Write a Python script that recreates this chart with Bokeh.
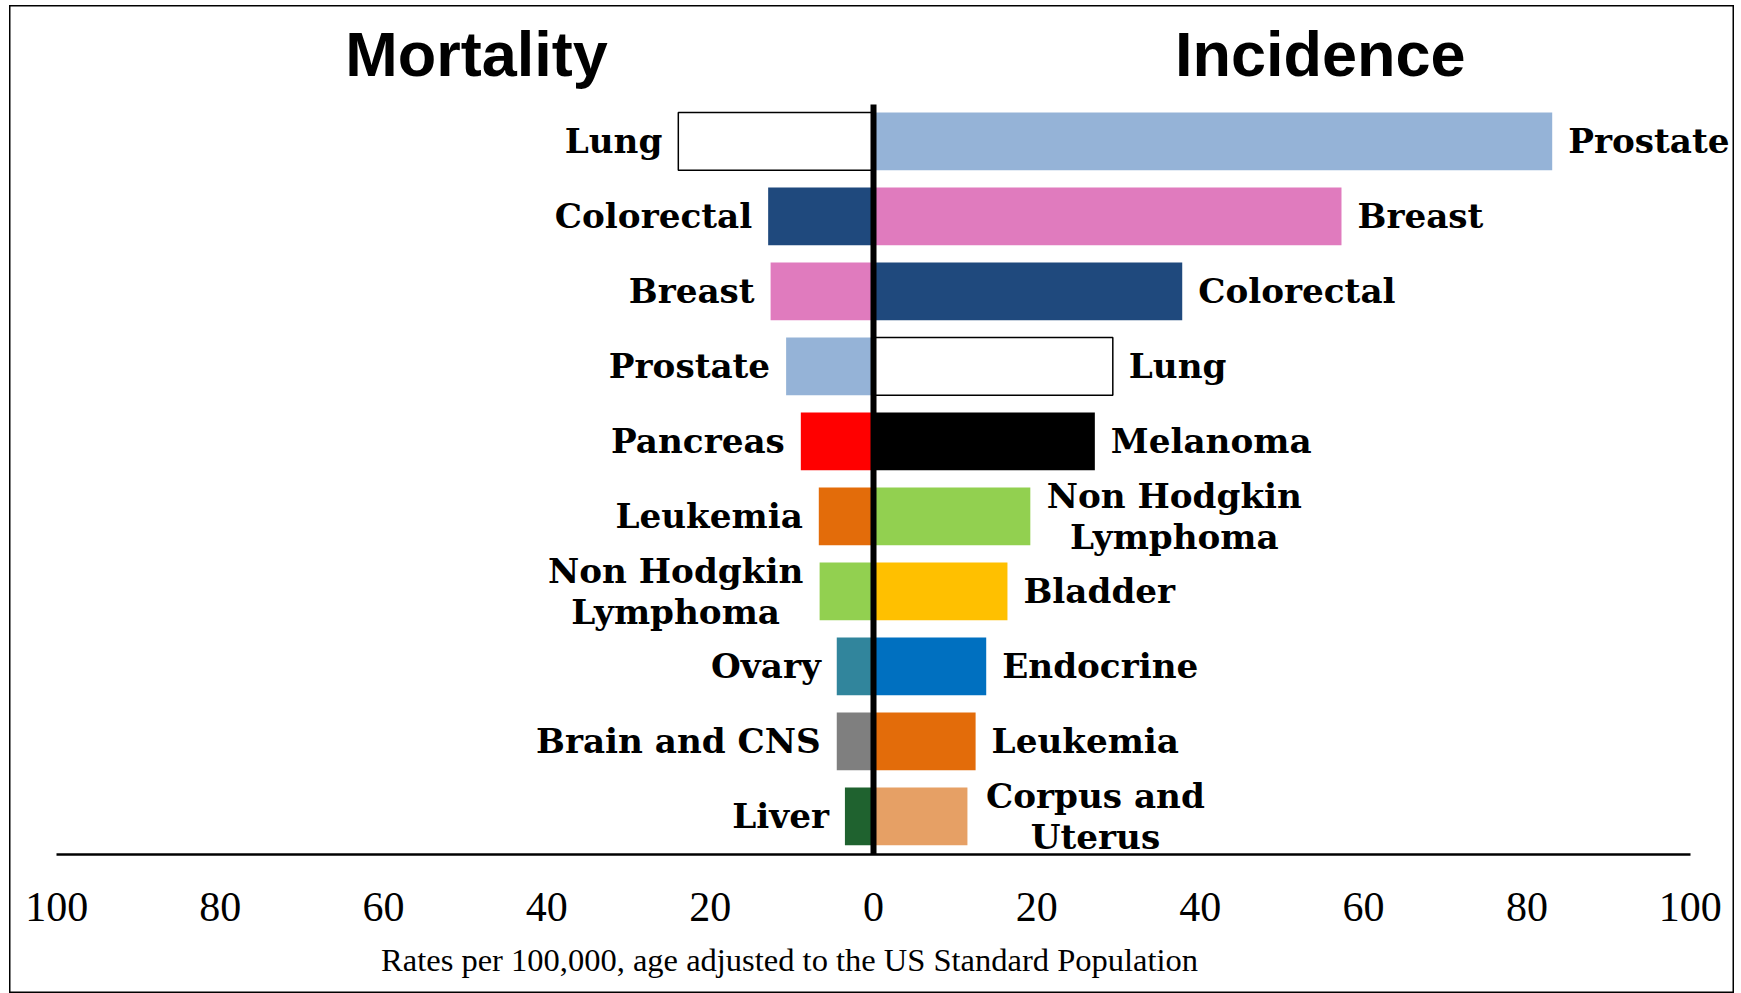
from bokeh.plotting import figure
from bokeh.models import ColumnDataSource, Range1d, LinearAxis, FixedTicker
from bokeh.core.properties import value
from bokeh.embed import file_html
from bokeh.resources import INLINE

# ---------------- data ----------------
mort_sites = ["Lung", "Colorectal", "Breast", "Prostate", "Pancreas", "Leukemia",
              "Non Hodgkin\nLymphoma", "Ovary", "Brain and CNS", "Liver"]
mort_rates = [23.9, 12.9, 12.6, 10.7, 8.9, 6.7, 6.6, 4.5, 4.5, 3.5]

inc_sites = ["Prostate", "Breast", "Colorectal", "Lung", "Melanoma",
             "Non Hodgkin\nLymphoma", "Bladder", "Endocrine", "Leukemia", "Corpus and\nUterus"]
inc_rates = [83.1, 57.3, 37.8, 29.3, 27.1, 19.2, 16.4, 13.8, 12.5, 11.5]

tick_values = [-100, -80, -60, -40, -20, 0, 20, 40, 60, 80, 100]
footnote = "Rates per 100,000, age adjusted to the US Standard Population"

# ---------------- styles ----------------
site_colors = {
    "Lung": "#FFFFFF", "Colorectal": "#1F497D", "Breast": "#E07BBE", "Prostate": "#95B3D7",
    "Pancreas": "#FF0000", "Leukemia": "#E36C0A", "Non Hodgkin\nLymphoma": "#92D050",
    "Ovary": "#31859C", "Brain and CNS": "#7F7F7F", "Liver": "#1F622F",
    "Melanoma": "#000000", "Bladder": "#FFC000", "Endocrine": "#0070C0",
    "Corpus and\nUterus": "#E6A065",
}
outlined = {"Lung"}
multi_half_width = {"Non Hodgkin\nLymphoma": 128, "Corpus and\nUterus": 112}
GAP = 16
LABEL_FONT = value("DejaVu Serif")

W, H = 1725, 988
rows = list(range(len(mort_sites)))

p = figure(width=W, height=H, output_backend="svg", toolbar_location=None,
           x_axis_type=None, y_axis_type=None,
           x_range=Range1d(-105.79, 105.42), y_range=Range1d(11.36, -1.813),
           min_border=0, min_border_left=0, min_border_right=0,
           min_border_top=0, min_border_bottom=0, margin=(5, 0, 0, 9))
p.outline_line_color = "black"
p.outline_line_width = 2
p.background_fill_color = "white"
p.border_fill_color = "white"


def side_source(sites, rates, sign):
    left, right, fill, lc, tx, off, align = [], [], [], [], [], [], []
    for s, r in zip(sites, rates):
        left.append(min(0, sign * r))
        right.append(max(0, sign * r))
        fill.append(site_colors[s])
        lc.append("black" if s in outlined else None)
        tx.append(sign * r)
        if s in multi_half_width:
            off.append(sign * (GAP + multi_half_width[s]))
            align.append("center")
        else:
            off.append(sign * GAP)
            align.append("left" if sign > 0 else "right")
    return ColumnDataSource(dict(y=rows, left=left, right=right, fill=fill, lc=lc,
                                 tx=tx, off=off, align=align, label=list(sites)))


mort_src = side_source(mort_sites, mort_rates, -1)
inc_src = side_source(inc_sites, inc_rates, 1)

for src in (mort_src, inc_src):
    p.hbar(y="y", left="left", right="right", height=0.77, fill_color="fill",
           line_color="lc", line_width=1.5, source=src)
    p.text(x="tx", y="y", text="label", x_offset="off", text_align="align",
           text_baseline="middle", text_font=LABEL_FONT, text_font_style="bold",
           text_font_size="34.2px", text_line_height=1.03, text_color="black", source=src)

# zero line and baseline
baseline_y = 9.507
p.segment(x0=[0], y0=[-0.493], x1=[0], y1=[baseline_y], line_color="black", line_width=6)

# titles
p.text(x=[-48.6, 54.7], y=[-1.173, -1.173], text=["Mortality", "Incidence"],
       text_align="center", text_baseline="alphabetic",
       text_font=value("Liberation Sans"), text_font_style="bold",
       text_font_size="63px", text_color="black")

# footnote
p.text(x=[-10.28], y=[10.916], text=[footnote], text_align="center",
       text_baseline="alphabetic", text_font=value("Liberation Serif"),
       text_font_size="32.5px", text_color="black")

xaxis = LinearAxis(ticker=FixedTicker(ticks=tick_values), fixed_location=baseline_y,
                   bounds=(-100, 100),
                   major_label_overrides={t: str(abs(t)) for t in tick_values})
xaxis.axis_line_color = "black"
xaxis.axis_line_width = 2.5
xaxis.major_tick_line_color = None
xaxis.minor_tick_line_color = None
xaxis.major_tick_out = 0
xaxis.major_tick_in = 0
xaxis.major_label_standoff = 38
xaxis.major_label_text_font = "Liberation Serif"
xaxis.major_label_text_font_size = "42px"
xaxis.major_label_text_color = "black"
p.add_layout(xaxis, "below")

open("out.html", "w").write(file_html(p, INLINE))
